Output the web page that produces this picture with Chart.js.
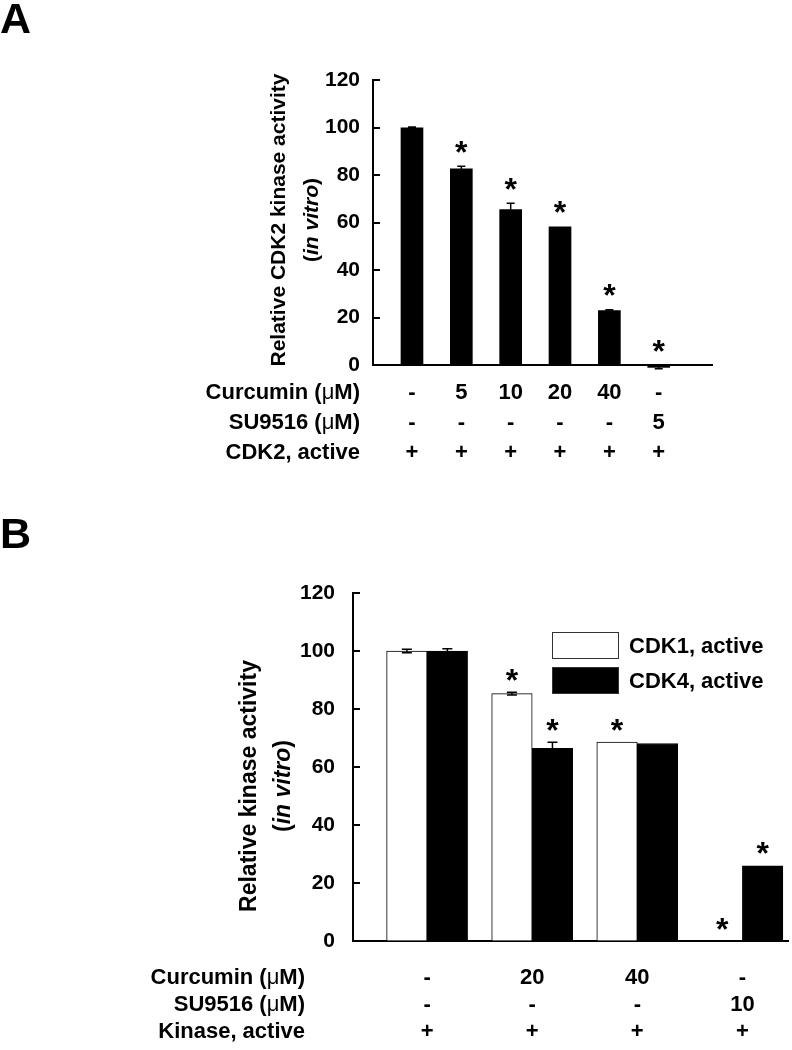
<!DOCTYPE html>
<html><head><meta charset="utf-8">
<script src="https://cdn.jsdelivr.net/npm/chart.js@4"></script>
<style>html,body{margin:0;padding:0;background:#fff;} canvas{display:block;}</style>
</head><body>
<canvas id="a" width="792" height="500"></canvas>
<canvas id="b" width="792" height="550"></canvas>
<script>
// ---------- Panel A data ----------
const curcuminA = ['-', '5', '10', '20', '40', '-'];
const su9516A   = ['-', '-', '-', '-', '-', '5'];
const cdk2A     = ['+', '+', '+', '+', '+', '+'];
const activityA = [99.9, 82.6, 65.4, 58.2, 22.9, -1];
const errorA    = [0.3, 1.1, 2.7, 0, 0.4, 0.6];
const sigA      = [false, true, true, true, true, true];
const yTicksA   = [0, 20, 40, 60, 80, 100, 120];

// ---------- Panel B data ----------
const curcuminB = ['-', '20', '40', '-'];
const su9516B   = ['-', '-', '-', '10'];
const kinaseB   = ['+', '+', '+', '+'];
const cdk1B     = [100, 85.3, 68.6, 0];
const cdk1ErrB  = [0.6, 0.5, 0, 0];
const cdk1SigB  = [false, true, true, true];
const cdk4B     = [100, 66.4, 68.1, 25.9];
const cdk4ErrB  = [0.8, 2.1, 0, 0];
const cdk4SigB  = [false, true, false, true];
const yTicksB   = [0, 20, 40, 60, 80, 100, 120];

const FONT = '"Liberation Sans", Arial, Helvetica, sans-serif';
const B = s => `bold ${s}px ${FONT}`;
const N = s => `${s}px ${FONT}`;

function drawRich(ctx, parts, x, y, align) {
  let total = 0;
  parts.forEach(p => { ctx.font = p.font; p.w = ctx.measureText(p.text).width; total += p.w; });
  let cx = align === 'right' ? x - total : (align === 'center' ? x - total / 2 : x);
  ctx.textAlign = 'left';
  parts.forEach(p => { ctx.font = p.font; ctx.fillText(p.text, cx, y); cx += p.w; });
}
function um(label, s) { // "Xxx (μM)" with μ in regular weight
  return [{text: label + ' (', font: B(s)}, {text: 'μ', font: N(s)}, {text: 'M)', font: B(s)}];
}

const extras = {
  id: 'extras',
  afterDatasetsDraw(chart, args, o) {
    const ctx = chart.ctx, ys = chart.scales.y, xs = chart.scales.x, ca = chart.chartArea;
    ctx.save();
    ctx.fillStyle = '#000'; ctx.strokeStyle = '#000';
    // inward y ticks
    ctx.lineWidth = 2;
    o.yTicks.forEach(v => {
      const py = Math.round(ys.getPixelForValue(v));
      ctx.beginPath(); ctx.moveTo(ca.left, py); ctx.lineTo(ca.left + o.tickLen, py); ctx.stroke();
    });
    // error bars & stars
    chart.data.datasets.forEach((ds, d) => {
      const meta = chart.getDatasetMeta(d);
      meta.data.forEach((bar, i) => {
        const v = ds.data[i].y, e = o.errors[d][i];
        let topPix = ys.getPixelForValue(Math.max(v, 0));
        if (e > 0) {
          const p1 = ys.getPixelForValue(v + e), p0 = ys.getPixelForValue(v - e);
          ctx.lineWidth = 1.5;
          ctx.beginPath();
          ctx.moveTo(bar.x, p0); ctx.lineTo(bar.x, p1);
          ctx.moveTo(bar.x - o.cap, p1); ctx.lineTo(bar.x + o.cap, p1);
          ctx.moveTo(bar.x - o.cap, p0); ctx.lineTo(bar.x + o.cap, p0);
          ctx.stroke();
          if (v + e > 0) topPix = Math.min(topPix, p1);
        }
        if (o.sig[d][i]) {
          ctx.font = B(32); ctx.textAlign = 'center'; ctx.textBaseline = 'alphabetic';
          const cy = topPix - o.starOff;
          ctx.fillText('*', bar.x, cy + 17.5);
        }
      });
    });
    // y axis title (two lines, rotated)
    ctx.textBaseline = 'middle';
    o.title.forEach(line => {
      ctx.save();
      ctx.translate(line.x, o.titleY);
      ctx.rotate(-Math.PI / 2);
      drawRich(ctx, line.parts, 0, 0, 'center');
      ctx.restore();
    });
    // treatment table
    o.rows.forEach(r => {
      drawRich(ctx, r.label, o.labelRight, r.y, 'right');
      ctx.font = B(o.fs); ctx.textAlign = 'center';
      r.values.forEach((t, i) => ctx.fillText(t, xs.getPixelForValue(i + 1), r.y));
    });
    // legend
    if (o.legend) {
      const L = o.legend;
      chart.data.datasets.forEach((ds, d) => {
        const y = L.y + d * L.step;
        ctx.fillStyle = ds.backgroundColor;
        ctx.fillRect(L.x, y, L.w, L.h);
        ctx.lineWidth = 1; ctx.strokeStyle = '#333';
        ctx.strokeRect(L.x + 0.5, y + 0.5, L.w - 1, L.h - 1);
        ctx.fillStyle = '#000'; ctx.font = B(L.fs); ctx.textAlign = 'left'; ctx.textBaseline = 'middle';
        ctx.fillText(ds.label, L.x + L.w + 10, y + L.h / 2 + 1);
      });
    }
    // panel letter
    ctx.font = B(43); ctx.textAlign = 'left'; ctx.textBaseline = 'alphabetic';
    ctx.fillStyle = '#000';
    ctx.fillText(o.letter, o.letterX, o.letterY);
    ctx.restore();
  }
};

function yScale(width, pad, ticks) {
  return {
    min: 0, max: 120,
    afterFit: ax => { ax.width = width; },
    afterBuildTicks: ax => { ax.ticks = ticks.map(v => ({value: v})); },
    ticks: { color: '#000', font: {family: FONT, size: 21, weight: 'bold'}, padding: pad },
    grid: { display: true, drawOnChartArea: false, drawTicks: false, color: '#000' },
    border: { display: true, color: '#000', width: 2 }
  };
}
function xScale(min, max) {
  return {
    type: 'linear', min, max, offset: false,
    afterFit: ax => { ax.height = 0; },
    ticks: { display: false },
    grid: { display: true, offset: false, drawOnChartArea: false, drawTicks: false, color: '#000' },
    border: { display: true, color: '#000', width: 2 }
  };
}

// ---------- Chart A ----------
new Chart(document.getElementById('a'), {
  type: 'bar',
  data: {
    datasets: [{
      label: 'CDK2, active',
      data: activityA.map((v, i) => ({x: i + 1, y: v})),
      backgroundColor: '#000', borderColor: '#000', borderWidth: 0,
      barThickness: 22, clip: false
    }]
  },
  options: {
    responsive: false, animation: false, devicePixelRatio: 1,
    layout: { padding: { left: 0, top: 80, right: 80, bottom: 135 } },
    scales: { x: xScale(0.21, 7.08), y: yScale(373, 13, yTicksA) },
    plugins: {
      legend: { display: false }, tooltip: { enabled: false },
      extras: {
        yTicks: yTicksA, tickLen: 7,
        errors: [errorA], sig: [sigA], cap: 4, starOff: 21,
        titleY: 220, fs: 22,
        title: [
          { x: 279, parts: [{text: 'Relative CDK2 kinase activity', font: B(21)}] },
          { x: 312, parts: [{text: '(', font: B(21)}, {text: 'in vitro', font: 'italic ' + B(21)}, {text: ')', font: B(21)}] }
        ],
        labelRight: 360,
        rows: [
          { y: 393, label: um('Curcumin', 22), values: curcuminA },
          { y: 423, label: um('SU9516', 22), values: su9516A },
          { y: 453, label: [{text: 'CDK2, active', font: B(22)}], values: cdk2A }
        ],
        letter: 'A', letterX: 0, letterY: 33
      }
    }
  },
  plugins: [extras]
});

// ---------- Chart B ----------
new Chart(document.getElementById('b'), {
  type: 'bar',
  data: {
    datasets: [
      { label: 'CDK1, active', data: cdk1B.map((v, i) => ({x: i + 1, y: v})),
        backgroundColor: '#fff', borderColor: '#000', borderWidth: 1, barThickness: 40.5 },
      { label: 'CDK4, active', data: cdk4B.map((v, i) => ({x: i + 1, y: v})),
        backgroundColor: '#000', borderColor: '#000', borderWidth: 1, barThickness: 40.5 }
    ]
  },
  options: {
    responsive: false, animation: false, devicePixelRatio: 1,
    layout: { padding: { left: 0, top: 93, right: 4, bottom: 109 } },
    scales: { x: xScale(0.295, 4.434), y: yScale(353, 18, yTicksB) },
    plugins: {
      legend: { display: false }, tooltip: { enabled: false },
      extras: {
        yTicks: yTicksB, tickLen: 7,
        errors: [cdk1ErrB, cdk4ErrB], sig: [cdk1SigB, cdk4SigB], cap: 5, starOff: 19,
        titleY: 286, fs: 22,
        title: [
          { x: 250, parts: [{text: 'Relative kinase activity', font: B(23)}] },
          { x: 284, parts: [{text: '(', font: B(23)}, {text: 'in vitro', font: 'italic ' + B(23)}, {text: ')', font: B(23)}] }
        ],
        labelRight: 305,
        rows: [
          { y: 478, label: um('Curcumin', 22), values: curcuminB },
          { y: 505, label: um('SU9516', 22), values: su9516B },
          { y: 532, label: [{text: 'Kinase, active', font: B(22)}], values: kinaseB }
        ],
        legend: { x: 552, y: 132, w: 67, h: 27, step: 35, fs: 22 },
        letter: 'B', letterX: 0, letterY: 48
      }
    }
  },
  plugins: [extras]
});
</script>
</body></html>
